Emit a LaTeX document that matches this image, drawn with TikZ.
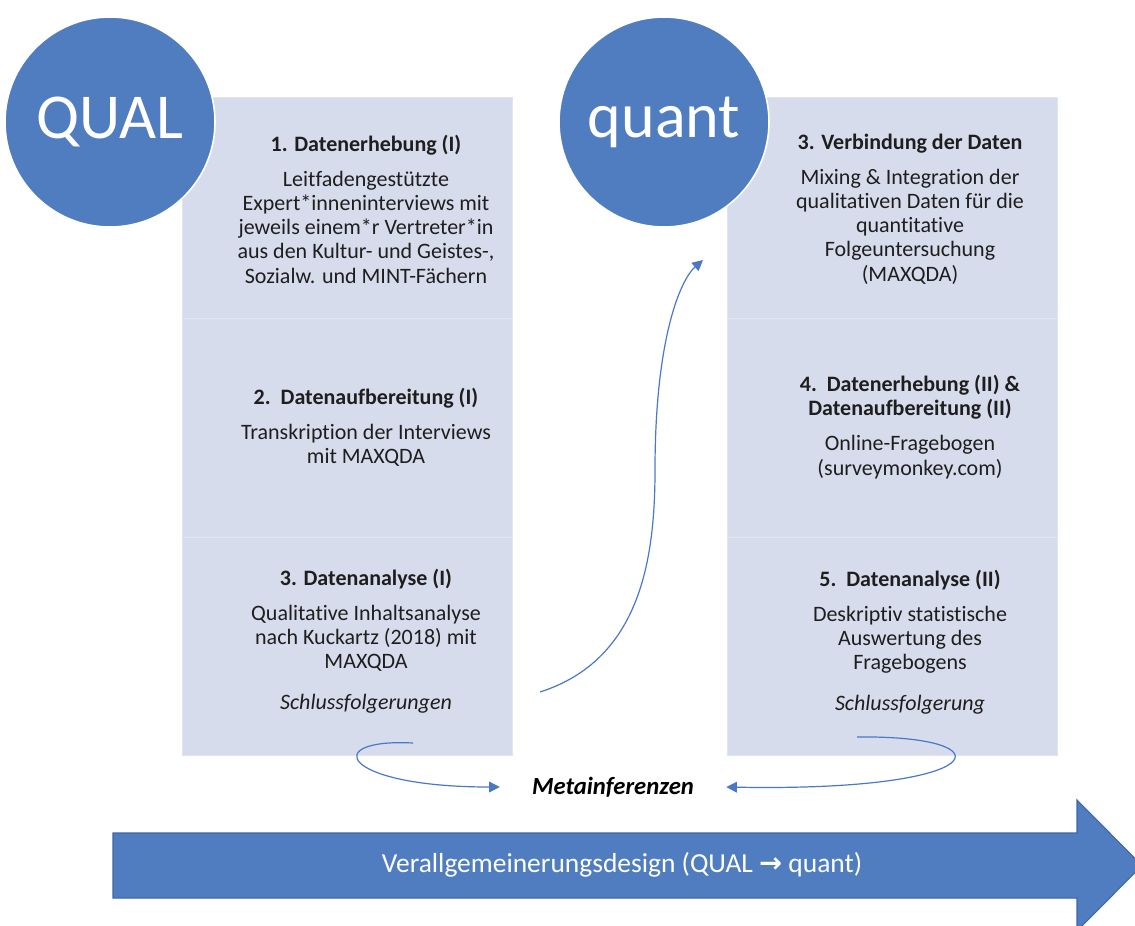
\documentclass[tikz,border=0pt]{standalone}
\usepackage{fontspec}
\setmainfont{Carlito}[Ligatures=NoCommon]
\newfontfamily\symfont{DejaVu Sans}
\usetikzlibrary{arrows.meta}

\definecolor{circblue}{RGB}{79,125,192}
\definecolor{arrowedge}{RGB}{62,104,168}
\definecolor{boxfill}{RGB}{214,220,236}
\definecolor{boxline}{RGB}{224,228,241}
\definecolor{lineblue}{RGB}{74,120,196}
\definecolor{textgray}{RGB}{30,30,30}

\tikzset{
  section/.style={fill=boxfill, draw=boxline, line width=0.8pt, minimum width=247.5pt, inner sep=0pt, anchor=north west},
  boxtext/.style={align=center, text=textgray, font=\fontsize{16.5}{18.2}\selectfont},
  bigcircle/.style={circle, fill=circblue, draw=white, line width=1.2pt, minimum size=157.5pt, text=white, font=\fontsize{48}{48}\selectfont},
  curvy/.style={draw=lineblue, line width=0.9pt, -{Triangle[length=8pt,width=8pt]}},
}

\begin{document}
\begin{tikzpicture}[x=0.75pt,y=-0.75pt]
\clip (0,0) rectangle (1135,925);
% the two columns, three steps each
\foreach \col/\x in {L/182, R/727}
  \foreach \i/\y/\h in {1/97/221, 2/318/219, 3/537/218}
    \node[section, minimum height=\h*0.75pt] (\col\i) at (\x,\y) {};

\node[boxtext] (L1t) at (366,209) {\textbf{1. Datenerhebung (I)}\\[8pt]
  Leitfadengestützte\\ Expert*inneninterviews mit\\ jeweils einem*r Vertreter*in\\
  aus den Kultur- und Geistes-,\\ Sozialw. und MINT-Fächern};
\node[boxtext] (L2t) at (366,427) {\textbf{2.\ \ Datenaufbereitung (I)}\\[8pt]
  Transkription der Interviews\\ mit MAXQDA};
\node[boxtext] (L3t) at (366,641) {\textbf{3. Datenanalyse (I)}\\[8pt]
  Qualitative Inhaltsanalyse\\ nach Kuckartz (2018) mit\\ MAXQDA\\[12pt]
  \textit{Schlussfolgerungen}};
\node[boxtext] (R1t) at (910,209) {\textbf{3. Verbindung der Daten}\\[8pt]
  Mixing \& Integration der\\ qualitativen Daten für die\\ quantitative\\
  Folgeuntersuchung\\ (MAXQDA)};
\node[boxtext] (R2t) at (910,427) {\textbf{4.\ \ Datenerhebung (II) \&}\\
  \textbf{Datenaufbereitung (II)}\\[8pt] Online-Fragebogen\\ (surveymonkey.com)};
\node[boxtext] (R3t) at (910,642) {\textbf{5.\ \ Datenanalyse (II)}\\[8pt]
  Deskriptiv statistische\\ Auswertung des\\ Fragebogens\\[12pt]
  \textit{Schlussfolgerung}};

\node[bigcircle] (qual) at (110,122) {QUAL};
\node[bigcircle] (quant) at (664,122) {quant};

\node[text=black, font=\bfseries\itshape\fontsize{18.5}{20}\selectfont, inner xsep=24pt] (meta) at (613,787) {Metainferenzen};

% free ends of the connectors
\coordinate (a1) at (413,743);
\coordinate (a2) at (857,737);
\coordinate (a3) at (540,692);
\coordinate (a4) at (703,260);

\draw[curvy] (a1) .. controls (320,738) and (340,787) .. (meta.west);
\draw[curvy] (a2) .. controls (1010,735) and (995,792) .. (meta.east);
\draw[curvy] (a3) .. controls (640,660) and (655,560) .. (655,470)
  .. controls (655,340) and (680,280) .. (a4);

% big arrow at the bottom
\fill[circblue, draw=arrowedge, line width=0.8pt] (113,833) -- (1077,833) -- (1077,800)
  -- (1142,865.5) -- (1077,931) -- (1077,898) -- (113,898) -- cycle;
\node[text=white, font=\fontsize{20.6}{24}\selectfont] (design) at (622,865)
  {Verallgemeinerungsdesign (QUAL {\symfont\bfseries →} quant)};
\end{tikzpicture}
\end{document}
